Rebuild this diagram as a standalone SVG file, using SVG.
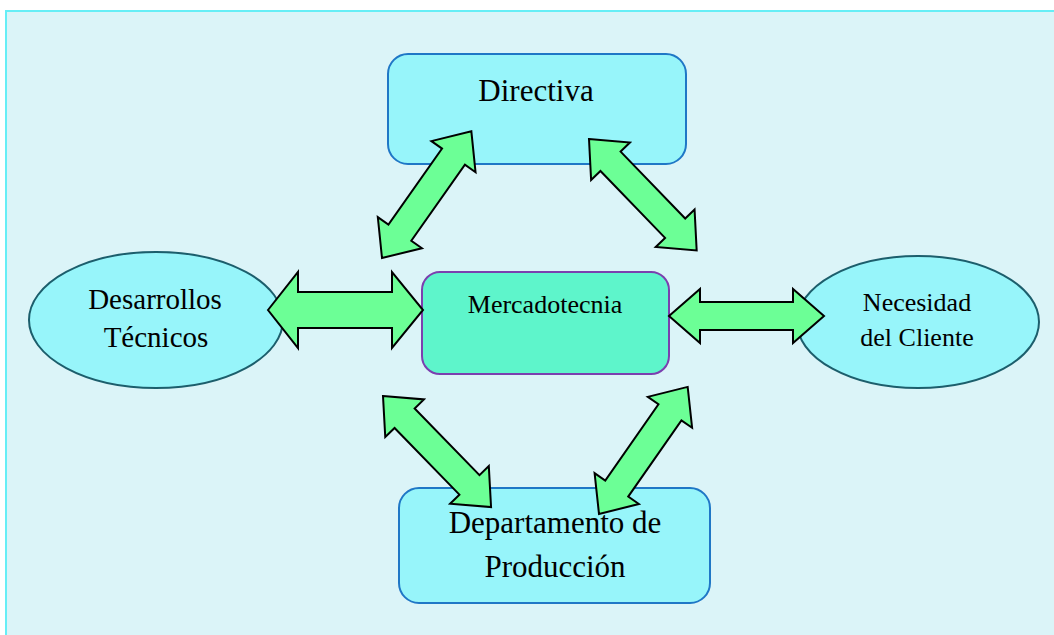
<svg xmlns="http://www.w3.org/2000/svg" xmlns:xlink="http://www.w3.org/1999/xlink" width="1054" height="635" viewBox="0 0 1054 635">
<style>
.box{fill:#97F5FA;stroke:#1F77C6;stroke-width:2}
.ell{fill:#97F5FA;stroke:#1C5E6C;stroke-width:2}
.mk{fill:#5EF5CB;stroke:#7B3FAF;stroke-width:2}
.arr{fill:#6CFF96;stroke:#000;stroke-width:2;stroke-linejoin:miter}
text{font-family:"Liberation Serif","Times New Roman",serif;fill:#000;text-anchor:middle}
</style>
<defs>
<path id="a2" d="M0,0 L31,-27 L31,-14 L124,-14 L124,-27 L155,0 L124,27 L124,14 L31,14 L31,27 Z"/>
</defs>
<rect x="0" y="0" width="1054" height="635" fill="#FFFFFF"/>
<rect x="6" y="11" width="1060" height="640" fill="#DBF4F8" stroke="#66EEF6" stroke-width="2"/>
<g id="directiva">
<rect class="box" x="388" y="54" width="298" height="110" rx="20"/>
<text x="536" y="101" font-size="31">Directiva</text>
</g>
<g id="mercadotecnia">
<rect class="mk" x="422" y="272" width="247" height="102" rx="18"/>
<text x="545" y="313" font-size="26">Mercadotecnia</text>
</g>
<g id="desarrollos">
<ellipse class="ell" cx="156" cy="320" rx="127" ry="68"/>
<text x="155" y="309" font-size="29">Desarrollos</text>
<text x="156" y="347" font-size="29">Técnicos</text>
</g>
<g id="necesidad">
<ellipse class="ell" cx="918" cy="322" rx="121" ry="66"/>
<text x="917" y="311" font-size="26">Necesidad</text>
<text x="917" y="346" font-size="26">del Cliente</text>
</g>
<g id="produccion">
<rect class="box" x="399" y="488" width="311" height="115" rx="20"/>
<text x="555" y="533" font-size="31">Departamento de</text>
<text x="555" y="577" font-size="31">Producción</text>
</g>
<g id="connectors">
<path class="arr" d="M268,310 L298,272 L298,292 L392,292 L392,272 L423,310 L392,348 L392,328 L298,328 L298,348 Z"/>
<use xlink:href="#a2" class="arr" transform="translate(669,316)"/>
<use xlink:href="#a2" class="arr" transform="translate(382,258) rotate(-54.8)"/>
<use xlink:href="#a2" class="arr" transform="translate(589,139) rotate(46)"/>
<use xlink:href="#a2" class="arr" transform="translate(383,396) rotate(45.8)"/>
<use xlink:href="#a2" class="arr" transform="translate(599,514) rotate(-55.1)"/>
</g>
</svg>
